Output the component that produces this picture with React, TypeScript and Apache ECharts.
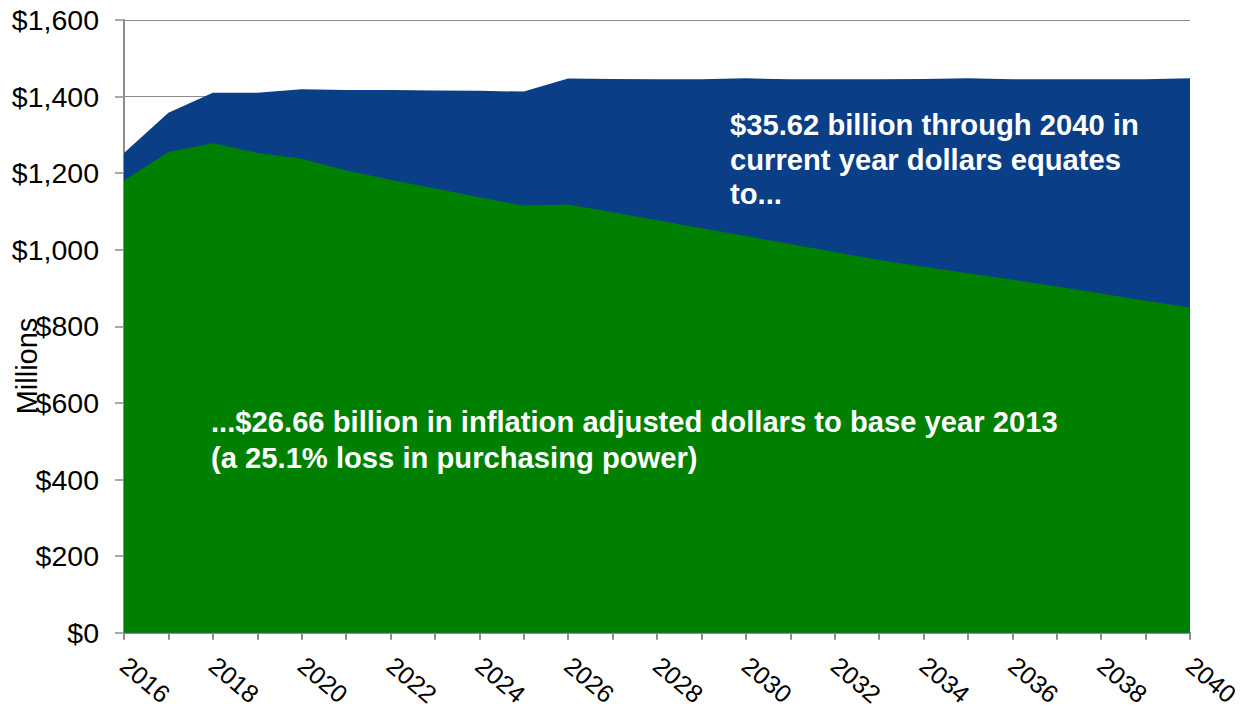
import React, { useEffect, useRef } from "react";
import * as echarts from "echarts";

const years: string[] = [
  "2016", "2017", "2018", "2019", "2020", "2021", "2022", "2023", "2024", "2025",
  "2026", "2027", "2028", "2029", "2030", "2031", "2032", "2033", "2034", "2035",
  "2036", "2037", "2038", "2039", "2040",
];

// Current year dollars (millions)
const currentDollars: number[] = [
  1253, 1358, 1410, 1410, 1419, 1417, 1417, 1416, 1415, 1413,
  1447, 1446, 1445, 1445, 1448, 1445, 1445, 1445, 1446, 1448,
  1445, 1445, 1445, 1445, 1448,
];

// Inflation adjusted dollars, base year 2013 (millions)
const adjustedDollars: number[] = [
  1181, 1255, 1278, 1253, 1238, 1207, 1183, 1160, 1137, 1115,
  1118, 1098, 1077, 1056, 1036, 1015, 994, 973, 956, 939,
  922, 904, 886, 867, 849,
];

const blueText: string[] = [
  "$35.62 billion through 2040 in",
  "current year dollars equates",
  "to...",
];
const greenText: string[] = [
  "...$26.66 billion in inflation adjusted dollars to base year 2013",
  "(a 25.1% loss in purchasing power)",
];
const yAxisName = "Millions";

const FONT = "'Liberation Sans', Arial, Helvetica, sans-serif";
const BLUE = "#0A3E87";
const GREEN = "#008000";
const GRAY = "#8C8C8C";

export default function App() {
  const ref = useRef<HTMLDivElement>(null);

  useEffect(() => {
    if (!ref.current) return;
    const chart = echarts.init(ref.current, null, { renderer: "svg" });
    const annF = 29.2;
    const graphics: any[] = [];
    const blueBase = [135, 170, 204];
    blueText.forEach((t, i) => {
      graphics.push({
        type: "text",
        x: 730,
        y: blueBase[i] - 0.35 * annF,
        style: {
          text: t,
          fill: "#fff",
          font: `bold ${annF}px ${FONT}`,
          align: "left",
          verticalAlign: "middle",
        },
        z: 10,
      });
    });
    const greenBase = [432, 468.5];
    greenText.forEach((t, i) => {
      graphics.push({
        type: "text",
        x: 211,
        y: greenBase[i] - 0.35 * annF,
        style: {
          text: t,
          fill: "#fff",
          font: `bold ${annF}px ${FONT}`,
          align: "left",
          verticalAlign: "middle",
        },
        z: 10,
      });
    });
    graphics.push({
      type: "text",
      x: 27,
      y: 366,
      rotation: Math.PI / 2,
      style: {
        text: yAxisName,
        fill: "#000",
        font: `29px ${FONT}`,
        align: "center",
        verticalAlign: "middle",
      },
      z: 10,
    });

    chart.setOption({
      animation: false,
      backgroundColor: "#fff",
      grid: { left: 124, right: 61, top: 20, bottom: 71 },
      xAxis: {
        type: "category",
        data: years,
        boundaryGap: false,
        axisLine: { show: true, lineStyle: { color: GRAY, width: 2 } },
        axisTick: { show: true, interval: 0, length: 7, lineStyle: { color: GRAY, width: 2 } },
        axisLabel: {
          interval: 1,
          rotate: -40,
          margin: 29,
          color: "#000",
          fontSize: 25,
          fontFamily: FONT,
        },
        splitLine: { show: false },
      },
      yAxis: {
        type: "value",
        min: 0,
        max: 1600,
        interval: 200,
        axisLine: { show: true, lineStyle: { color: GRAY, width: 2 } },
        axisTick: { show: true, length: 9, lineStyle: { color: GRAY, width: 1.5 } },
        axisLabel: {
          margin: 25,
          color: "#000",
          fontSize: 28.5,
          fontFamily: FONT,
          formatter: (v: number) => "$" + v.toLocaleString("en-US"),
        },
        splitLine: { show: true, lineStyle: { color: GRAY, width: 1 } },
      },
      series: [
        {
          name: "Current year dollars",
          type: "line",
          data: currentDollars,
          symbol: "none",
          lineStyle: { width: 0 },
          areaStyle: { color: BLUE, opacity: 1 },
          z: 2,
        },
        {
          name: "Inflation adjusted dollars",
          type: "line",
          data: adjustedDollars,
          symbol: "none",
          lineStyle: { width: 0 },
          areaStyle: { color: GREEN, opacity: 1 },
          z: 3,
        },
      ],
      graphic: graphics,
    });
    return () => chart.dispose();
  }, []);

  return (
    <div
      ref={ref}
      style={{ position: "fixed", left: 0, top: 0, width: 1251, height: 709 }}
    />
  );
}
